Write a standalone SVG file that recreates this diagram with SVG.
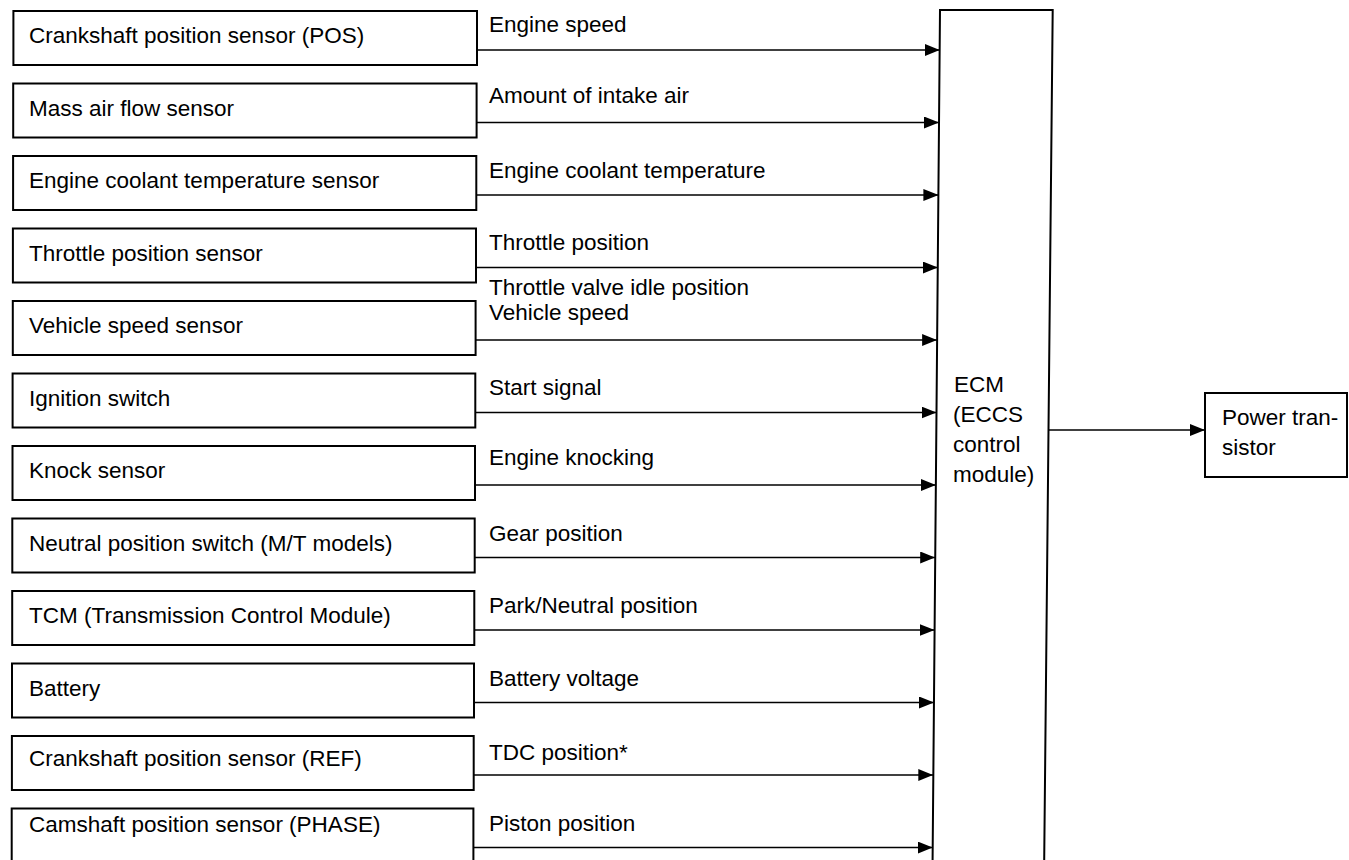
<svg xmlns="http://www.w3.org/2000/svg" width="1349" height="860" viewBox="0 0 1349 860">
<style>
.box{fill:#fff;stroke:#000;stroke-width:2}
.t{font-family:"Liberation Sans",Arial,sans-serif;font-size:22.5px;fill:#000}
.c{stroke:#000;stroke-width:1.4;fill:none}
</style>
<defs>
<marker id="ah" markerUnits="userSpaceOnUse" markerWidth="15" markerHeight="12" refX="15" refY="6" orient="auto"><path d="M0,0 L15,6 L0,12 z" fill="#000"/></marker>
</defs>
<rect width="1349" height="860" fill="#fff"/>
<g id="ecm"><path class="box" d="M932.5,870 L940,10 L1052.7,10 L1044.1,870"/>
<text class="t" x="954" y="392">ECM</text><text class="t" x="953" y="422">(ECCS</text><text class="t" x="953" y="452">control</text><text class="t" x="953" y="482">module)</text></g>
<g id="power-transistor"><rect class="box" x="1205" y="393" width="142" height="84"/>
<text class="t" x="1222" y="425">Power tran-</text><text class="t" x="1222" y="455">sistor</text></g>
<g id="n1"><rect class="box" x="13.4" y="11" width="463.6" height="54"/><text class="t" x="29" y="43">Crankshaft position sensor (POS)</text></g>
<g id="n2"><rect class="box" x="13.2" y="83.5" width="463.4" height="54"/><text class="t" x="29" y="115.5">Mass air flow sensor</text></g>
<g id="n3"><rect class="box" x="13.1" y="156" width="463.2" height="54"/><text class="t" x="29" y="188">Engine coolant temperature sensor</text></g>
<g id="n4"><rect class="box" x="12.9" y="228.5" width="463.1" height="54"/><text class="t" x="29" y="260.5">Throttle position sensor</text></g>
<g id="n5"><rect class="box" x="12.8" y="301" width="462.8" height="54"/><text class="t" x="29" y="333">Vehicle speed sensor</text></g>
<g id="n6"><rect class="box" x="12.6" y="373.5" width="462.7" height="54"/><text class="t" x="29" y="405.5">Ignition switch</text></g>
<g id="n7"><rect class="box" x="12.5" y="446" width="462.5" height="54"/><text class="t" x="29" y="478">Knock sensor</text></g>
<g id="n8"><rect class="box" x="12.3" y="518.5" width="462.4" height="54"/><text class="t" x="29" y="550.5">Neutral position switch (M/T models)</text></g>
<g id="n9"><rect class="box" x="12.2" y="591" width="462.1" height="54"/><text class="t" x="29" y="623">TCM (Transmission Control Module)</text></g>
<g id="n10"><rect class="box" x="12" y="663.5" width="462" height="54"/><text class="t" x="29" y="695.5">Battery</text></g>
<g id="n11"><rect class="box" x="11.9" y="736" width="461.8" height="54"/><text class="t" x="29" y="766">Crankshaft position sensor (REF)</text></g>
<g id="n12"><rect class="box" x="11.7" y="808.5" width="461.7" height="60"/><text class="t" x="29" y="831.5">Camshaft position sensor (PHASE)</text></g>
<g id="connectors">
<line class="c" x1="477" y1="50" x2="939.7" y2="50" marker-end="url(#ah)"/>
<line class="c" x1="476.6" y1="122.5" x2="939" y2="122.5" marker-end="url(#ah)"/>
<line class="c" x1="476.3" y1="195" x2="938.4" y2="195" marker-end="url(#ah)"/>
<line class="c" x1="476" y1="267.5" x2="937.8" y2="267.5" marker-end="url(#ah)"/>
<line class="c" x1="475.6" y1="340" x2="937.1" y2="340" marker-end="url(#ah)"/>
<line class="c" x1="475.3" y1="412.5" x2="936.5" y2="412.5" marker-end="url(#ah)"/>
<line class="c" x1="475" y1="485" x2="935.9" y2="485" marker-end="url(#ah)"/>
<line class="c" x1="474.7" y1="557.5" x2="935.2" y2="557.5" marker-end="url(#ah)"/>
<line class="c" x1="474.3" y1="630" x2="934.6" y2="630" marker-end="url(#ah)"/>
<line class="c" x1="474" y1="702.5" x2="934" y2="702.5" marker-end="url(#ah)"/>
<line class="c" x1="473.7" y1="775" x2="933.3" y2="775" marker-end="url(#ah)"/>
<line class="c" x1="473.4" y1="847.5" x2="932.7" y2="847.5" marker-end="url(#ah)"/>
<line class="c" x1="1048.5" y1="430" x2="1205" y2="430" marker-end="url(#ah)"/>
<text class="t" x="489" y="32">Engine speed</text>
<text class="t" x="489" y="103">Amount of intake air</text>
<text class="t" x="489" y="178">Engine coolant temperature</text>
<text class="t" x="489" y="250">Throttle position</text>
<text class="t" x="489" y="294.5">Throttle valve idle position</text>
<text class="t" x="489" y="320">Vehicle speed</text>
<text class="t" x="489" y="395">Start signal</text>
<text class="t" x="489" y="465">Engine knocking</text>
<text class="t" x="489" y="541">Gear position</text>
<text class="t" x="489" y="613">Park/Neutral position</text>
<text class="t" x="489" y="686">Battery voltage</text>
<text class="t" x="489" y="760">TDC position*</text>
<text class="t" x="489" y="831">Piston position</text>
</g>
</svg>
